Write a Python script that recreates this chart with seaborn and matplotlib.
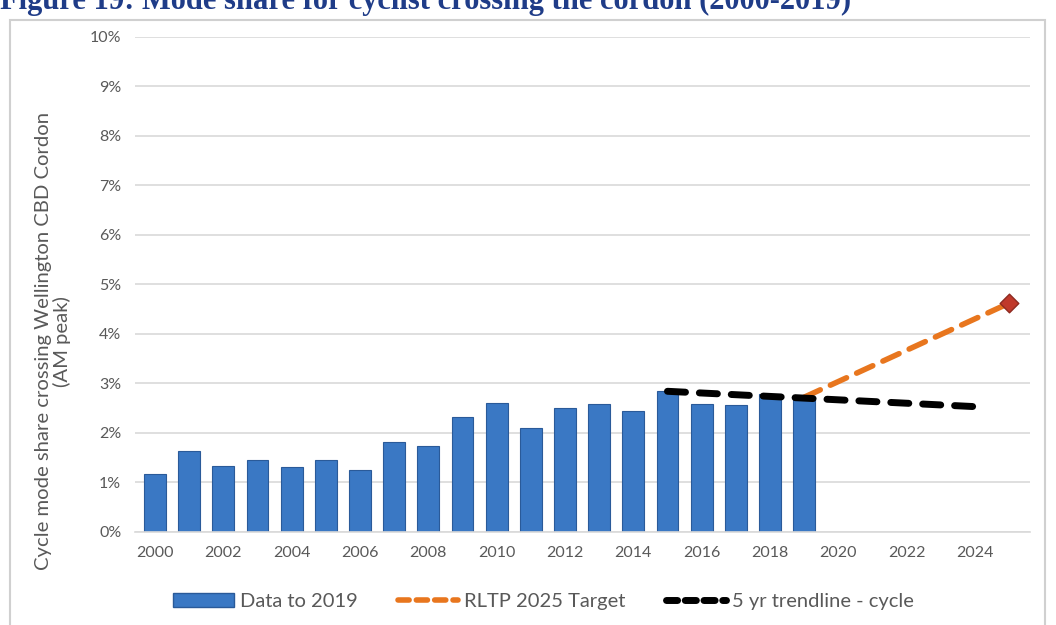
import numpy as np
import pandas as pd
import matplotlib
matplotlib.use("Agg")
import matplotlib.pyplot as plt
import seaborn as sns
from matplotlib.patches import Rectangle
from matplotlib.lines import Line2D
from matplotlib.ticker import FuncFormatter

# data (mode share, %)
years = list(range(2000, 2020))
share = [1.17, 1.64, 1.33, 1.45, 1.31, 1.45, 1.25, 1.82, 1.74, 2.32,
         2.60, 2.10, 2.50, 2.58, 2.44, 2.84, 2.59, 2.57, 2.79, 2.72]
target_years = [2019, 2025]
target_vals = [2.72, 4.62]
trend_years = [2015, 2024]
trend_vals = [2.84, 2.53]
xtick_years = list(range(2000, 2025, 2))

sns.set_theme(style="white")
plt.rcParams["font.family"] = ["Lato", "DejaVu Sans"]
grey = "#595959"

df = pd.DataFrame({"year": years, "share": share})

fig = plt.figure(figsize=(10.56, 6.25), dpi=100)
ax = fig.add_axes([0.128, 0.149, 0.847, 0.792])

sns.barplot(data=df, x="year", y="share", native_scale=True, width=0.64,
            color="#3A78C4", edgecolor="#2A5A99", linewidth=0.8,
            saturation=1, ax=ax)

sns.lineplot(x=target_years, y=target_vals, color="#E8761E", lw=4,
             dashes=False, ax=ax, zorder=4)
ax.lines[-1].set_dashes([3.2, 2.0])
ax.lines[-1].set_dash_capstyle("round")
sns.lineplot(x=trend_years, y=trend_vals, color="black", lw=5,
             dashes=False, ax=ax, zorder=5)
ax.lines[-1].set_dashes([2.6, 2.0])
ax.lines[-1].set_dash_capstyle("round")
ax.scatter([target_years[-1]], [target_vals[-1]], marker="D", s=90,
           color="#C0392B", edgecolor="#8E2A20", zorder=6)

ax.set_xlim(1999.42, 2025.6)
ax.set_ylim(0, 10)
ax.set_yticks(range(0, 11))
ax.yaxis.set_major_formatter(FuncFormatter(lambda v, p: f"{int(v)}%"))
ax.set_xticks(xtick_years)
ax.set_xticklabels([str(y) for y in xtick_years])
ax.tick_params(axis="both", colors=grey, labelsize=11.5, length=0, pad=10)
ax.grid(axis="y", color="#D9D9D9", lw=1.2)
ax.set_axisbelow(True)
for s in ["top", "right", "left"]:
    ax.spines[s].set_visible(False)
ax.spines["bottom"].set_color("#D9D9D9")
ax.spines["bottom"].set_linewidth(1.2)
ax.set_xlabel("")
ax.set_ylabel("Cycle mode share crossing Wellington CBD Cordon\n(AM peak)",
              fontsize=14.6, color=grey, linespacing=1.05)
ax.yaxis.set_label_coords(-0.072, 0.385)

handles = [
    Rectangle((0, 0), 1, 1, facecolor="#3A78C4", edgecolor="#2A5A99"),
    Line2D([0], [0], color="#E8761E", lw=4, dashes=[2.0, 1.3], dash_capstyle="round"),
    Line2D([0], [0], color="black", lw=5, dashes=[1.6, 1.1], dash_capstyle="round"),
]
fig.legend(handles, ["Data to 2019", "RLTP 2025 Target", "5 yr trendline - cycle"],
           loc="center", bbox_to_anchor=(0.515, 0.038), ncol=3, frameon=False,
           fontsize=14.5, labelcolor=grey, handlelength=3.0, columnspacing=2.0,
           handletextpad=0.3)

# chart border and cropped caption
fig.patches.append(Rectangle((0.009, -0.01), 0.981, 0.978, transform=fig.transFigure,
                             fill=False, edgecolor="#D0D0D0", lw=1.5))
fig.text(0.0, 0.998, "Figure 19: Mode share for cyclist crossing the cordon (2000-2019)",
         fontsize=22, fontweight="bold", family="Liberation Serif",
         color="#1F3C88", ha="left", va="center")

fig.savefig("out.png", dpi=100)
